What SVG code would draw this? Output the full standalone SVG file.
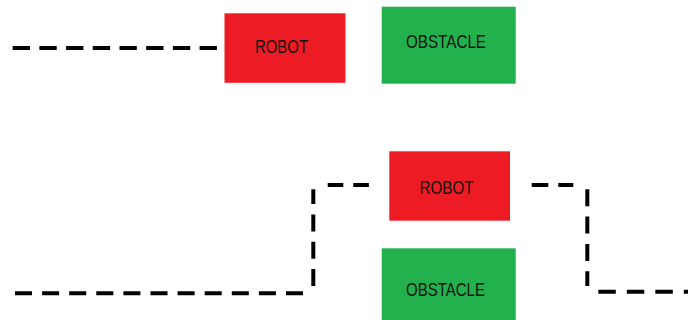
<svg xmlns="http://www.w3.org/2000/svg" width="688" height="320" viewBox="0 0 688 320">
<style>
.robot{fill:#ED1C24}
.obst{fill:#22B14C}
.lbl{font-family:"Liberation Sans",Arial,sans-serif;font-size:17.5px;fill:#111}
.dash{fill:none;stroke:#000;stroke-width:4;stroke-dasharray:17 10}
</style>
<rect width="688" height="320" fill="#fff"/>
<g id="robot-top"><rect class="robot" x="224.5" y="13.3" width="121" height="69.5"/><text class="lbl" x="255" y="53.3" textLength="53" lengthAdjust="spacingAndGlyphs">ROBOT</text></g>
<g id="obstacle-top"><rect class="obst" x="381.7" y="6.7" width="134" height="77"/><text class="lbl" x="406" y="48.3" textLength="80" lengthAdjust="spacingAndGlyphs">OBSTACLE</text></g>
<g id="robot-bottom"><rect class="robot" x="389.3" y="151.3" width="120.7" height="69.4"/><text class="lbl" x="419.5" y="194.3" textLength="54" lengthAdjust="spacingAndGlyphs">ROBOT</text></g>
<g id="obstacle-bottom"><rect class="obst" x="381.7" y="248.3" width="134" height="72"/><text class="lbl" x="406" y="296" textLength="79" lengthAdjust="spacingAndGlyphs">OBSTACLE</text></g>
<g id="connectors">
<path class="dash" style="stroke-dasharray:17.3 9.4" d="M12.7 48H219"/>
<path class="dash" style="stroke-dasharray:17 10.1" d="M15 293.3H303.3"/>
<path class="dash" style="stroke-dasharray:17 10.3" d="M313.3 286V189.3"/>
<path class="dash" style="stroke-dasharray:15.6 10" d="M327.7 185H369.3"/>
<path class="dash" style="stroke-dasharray:16.6 10" d="M531.7 185H573.3"/>
<path class="dash" style="stroke-dasharray:17 10.3" d="M587.3 189.3V286"/>
<path class="dash" style="stroke-dasharray:17.5 11" d="M598.3 291.7H688"/>
</g>
</svg>
